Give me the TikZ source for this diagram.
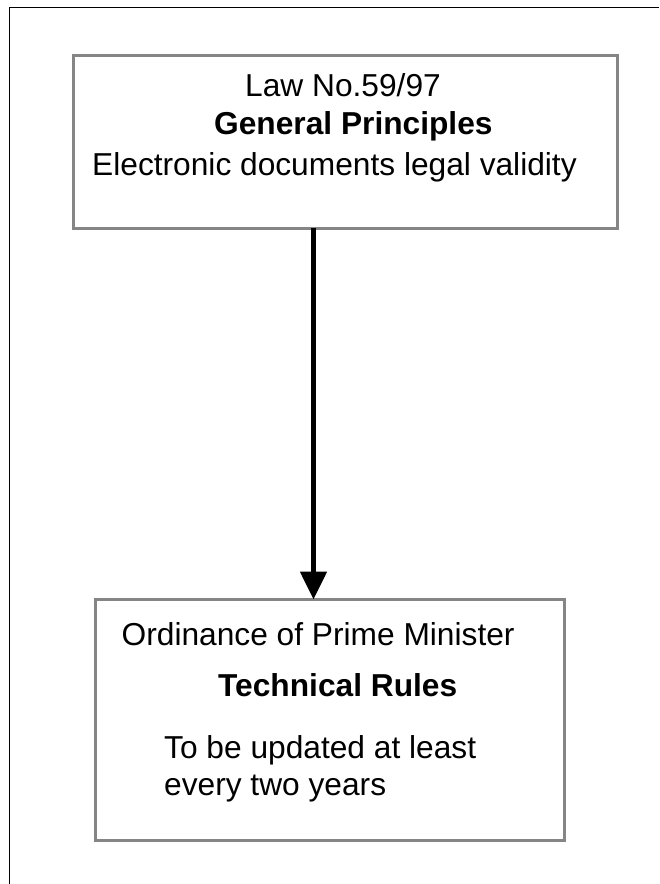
\documentclass[tikz,border=0pt]{standalone}
\usepackage{fontspec}
\setmainfont{Liberation Sans}
\usetikzlibrary{arrows.meta}
\begin{document}
\begin{tikzpicture}[x=1pt,y=-1pt,
  frame/.style={line width=1.6pt,draw=black},
  panel/.style={draw=black!48,line width=3pt,rectangle,inner sep=0pt,outer sep=0pt,anchor=north west},
  label/.style={anchor=base west,inner sep=0pt,font=\fontsize{31.7}{38}\selectfont},
  heading/.style={label,font=\fontsize{31.7}{38}\selectfont\bfseries},
  flow/.style={line width=5pt,-{Triangle[length=28pt,width=26pt]}}]
  \useasboundingbox (0,0) rectangle (659,884);
  % partial outer frame
  \draw[frame] (9.5,884) -- (9.5,7.5) -- (659,7.5);
  % boxes
  \node[panel,minimum width=544.5pt,minimum height=173pt] (law) at (73.3,55.3) {};
  \node[panel,minimum width=469pt,minimum height=240.5pt] (ord) at (95,599.5) {};
  % texts of the upper box
  \node[label] (lawA) at (245,96.7) {Law No.59/97};
  \node[heading] (lawB) at (214,134) {General Principles};
  \node[label] (lawC) at (92,175.4) {Electronic documents legal validity};
  % texts of the lower box
  \node[label] (ordA) at (121.5,645) {Ordinance of Prime Minister};
  \node[heading] (ordB) at (218,696.7) {Technical Rules};
  \node[label] (ordC) at (164,758) {To be updated at least};
  \node[label] (ordD) at (164,795) {every two years};
  % connector
  \coordinate (ax) at (313.5,0);
  \draw[flow] (law.south -| ax) -- (ord.north -| ax);
\end{tikzpicture}
\end{document}
